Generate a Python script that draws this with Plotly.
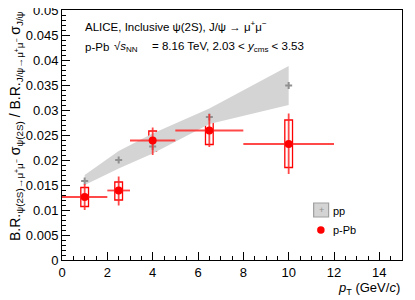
import plotly.graph_objects as go

# ---------------- data ----------------
pp_pt = [1, 2.5, 4, 6.5, 10]
pp_val = [0.0158, 0.0200, 0.0227, 0.0286, 0.0349]
pp_band_hi = [0.0170, 0.0218, 0.0253, 0.0303, 0.0388]
pp_band_lo = [0.0150, 0.0183, 0.0213, 0.0272, 0.0310]

ppb_pt = [1, 2.5, 4, 6.5, 10]
ppb_pt_lo = [0, 2, 3, 5, 8]
ppb_pt_hi = [2, 3, 5, 8, 12]
ppb_val = [0.0126, 0.0139, 0.0239, 0.0259, 0.0232]
ppb_stat_hi = [0.0152, 0.0167, 0.0265, 0.0292, 0.0293]
ppb_stat_lo = [0.0100, 0.0109, 0.0210, 0.0226, 0.0172]
ppb_sys_hi = [0.0145, 0.0156, 0.0258, 0.0285, 0.0280]
ppb_sys_lo = [0.0107, 0.0120, 0.0218, 0.0231, 0.0185]

FONT = "Liberation Sans, Arial, sans-serif"

# The page body has an 8px margin: shrink the figure so that the plot
# lands where the reference has it in the 415x300 window.
OFF = 8
W, H = 415 - OFF, 300 - OFF
L, R, T, B = 62 - OFF, 12.5, 10 - OFF, 40
PW, PH = W - L - R, H - T - B


def px(xp):
    # reference window pixel -> paper coordinate
    return (xp - OFF - L) / PW


def py(yp):
    return (H - B - (yp - OFF)) / PH


fig = go.Figure()

# pp band
fig.add_trace(go.Scatter(
    x=pp_pt + pp_pt[::-1],
    y=pp_band_hi + pp_band_lo[::-1],
    fill="toself", fillcolor="#d4d4d4", mode="lines",
    line=dict(width=0, color="#d4d4d4"), showlegend=False, hoverinfo="skip"))

# pp points
fig.add_trace(go.Scatter(
    x=pp_pt, y=pp_val, mode="markers",
    marker=dict(symbol="cross-thin", size=5, line=dict(color="#909090", width=2)),
    showlegend=False))

# p-Pb systematic boxes
fig.add_trace(go.Bar(
    x=ppb_pt,
    y=[h - l for h, l in zip(ppb_sys_hi, ppb_sys_lo)],
    base=ppb_sys_lo, width=0.34,
    marker=dict(color="rgba(0,0,0,0)", line=dict(color="#ff0000", width=1.3)),
    showlegend=False))

# p-Pb points with stat errors
fig.add_trace(go.Scatter(
    x=ppb_pt, y=ppb_val, mode="markers",
    marker=dict(symbol="circle", size=8, color="#ff0000"),
    error_x=dict(type="data", symmetric=False,
                 array=[h - c for h, c in zip(ppb_pt_hi, ppb_pt)],
                 arrayminus=[c - l for c, l in zip(ppb_pt, ppb_pt_lo)],
                 width=0, thickness=1.8, color="rgba(255,40,40,0.85)"),
    error_y=dict(type="data", symmetric=False,
                 array=[h - v for h, v in zip(ppb_stat_hi, ppb_val)],
                 arrayminus=[v - l for v, l in zip(ppb_val, ppb_stat_lo)],
                 width=0, thickness=1.8, color="rgba(255,40,40,0.85)"),
    showlegend=False))

fig.update_layout(
    template="none",
    width=W, height=H,
    margin=dict(l=L, r=R, t=T, b=B, pad=0),
    paper_bgcolor="white", plot_bgcolor="white",
    font=dict(family=FONT, size=13, color="black"),
    barmode="overlay", showlegend=False,
)

fig.update_xaxes(
    range=[0, 15], dtick=2, tick0=0, automargin=False,
    ticks="inside", ticklen=8, tickcolor="black",
    minor=dict(ticks="inside", dtick=0.5, ticklen=4, tickcolor="black"),
    showline=True, linecolor="black", linewidth=1, mirror=True,
    showgrid=False, zeroline=False, ticklabeloverflow="allow",
    tickfont=dict(size=13, family=FONT),
)
fig.update_yaxes(
    range=[0, 0.05], dtick=0.005, tick0=0, automargin=False,
    ticks="inside", ticklen=8, tickcolor="black",
    minor=dict(ticks="inside", dtick=0.001, ticklen=4, tickcolor="black"),
    showline=True, linecolor="black", linewidth=1, mirror=True,
    showgrid=False, zeroline=False, ticklabeloverflow="allow",
    tickfont=dict(size=13, family=FONT),
)

TXT = 11.5
ann = []
ann.append(dict(
    text="ALICE, Inclusive ψ(2S), J/ψ → μ<sup>+</sup>μ<sup>−</sup>",
    xref="paper", yref="paper", x=px(83), y=py(26),
    xanchor="left", yanchor="middle", showarrow=False,
    font=dict(size=TXT, family=FONT)))
ann.append(dict(
    text="p-Pb",
    xref="paper", yref="paper", x=px(83), y=py(46.5),
    xanchor="left", yanchor="middle", showarrow=False,
    font=dict(size=TXT, family=FONT)))
ann.append(dict(
    text="√<i>s</i><sub>NN</sub>",
    xref="paper", yref="paper", x=px(112), y=py(46.5),
    xanchor="left", yanchor="middle", showarrow=False,
    font=dict(size=TXT, family=FONT)))
ann.append(dict(
    text="= 8.16 TeV, 2.03 &lt; <i>y</i><sub>cms</sub> &lt; 3.53",
    xref="paper", yref="paper", x=px(306), y=py(46.5),
    xanchor="right", yanchor="middle", showarrow=False,
    font=dict(size=TXT, family=FONT)))
# x-axis title
ann.append(dict(
    text="<i>p</i><sub>T</sub> (GeV/<i>c</i>)",
    xref="paper", yref="paper", x=px(403), y=py(288),
    xanchor="right", yanchor="middle", showarrow=False,
    font=dict(size=13, family=FONT)))
# y-axis title
ann.append(dict(
    text="B.R.<sub>ψ(2S)→μ<sup>+</sup>μ<sup>−</sup></sub> σ<sub>ψ(2S)</sub> / "
         "B.R.<sub>J/ψ→μ<sup>+</sup>μ<sup>−</sup></sub> σ<sub>J/ψ</sub>",
    xref="paper", yref="paper", x=px(16), y=py(126),
    xanchor="center", yanchor="middle", textangle=-90, showarrow=False,
    font=dict(size=14, family=FONT)))
# legend text
ann.append(dict(text="pp", xref="paper", yref="paper", x=px(331), y=py(210.5),
                xanchor="left", yanchor="middle", showarrow=False,
                font=dict(size=11, family=FONT)))
ann.append(dict(text="p-Pb", xref="paper", yref="paper", x=px(331), y=py(230),
                xanchor="left", yanchor="middle", showarrow=False,
                font=dict(size=11, family=FONT)))
ann.append(dict(text="+", xref="paper", yref="paper", x=px(321.5), y=py(209.8),
                xanchor="center", yanchor="middle", showarrow=False,
                font=dict(size=9, family=FONT, color="#909090")))
fig.update_layout(annotations=ann)

shapes = [
    dict(type="rect", xref="paper", yref="paper",
         x0=px(314), x1=px(329), y0=py(217), y1=py(203),
         fillcolor="#d4d4d4", line=dict(color="#a0a0a0", width=1.2), layer="above"),
    dict(type="circle", xref="paper", yref="paper",
         x0=px(317.5), x1=px(325), y0=py(233.8), y1=py(226.3),
         fillcolor="#ff0000", line=dict(color="#ff0000", width=0), layer="above"),
]
fig.update_layout(shapes=shapes)

fig.write_html("out.html")
